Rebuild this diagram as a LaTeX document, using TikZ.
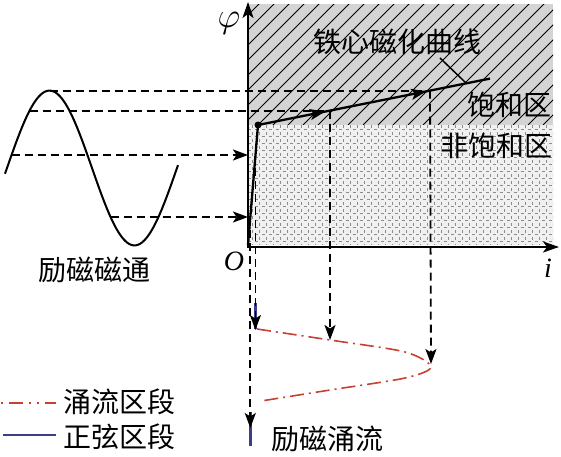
\documentclass[tikz,border=0pt]{standalone}
\usepackage{fontspec}
\setmainfont{Liberation Serif}
\newfontfamily\cjk{Noto Sans CJK SC}
\usetikzlibrary{arrows.meta,decorations.markings}
\definecolor{redc}{HTML}{C8402F}
\definecolor{bluec}{HTML}{3B3F86}
\tikzset{
  guide/.style={line width=1.8pt, dash pattern=on 8pt off 5pt},
  tipped/.style={-{Stealth[length=15pt,width=11pt,inset=3.5pt]}},
  axis/.style={line width=2.1pt,-{Stealth[length=16pt,width=11pt,inset=4pt]}},
  cjktext/.style={font=\cjk\fontsize{28}{30}\selectfont, inner sep=0pt, anchor=west},
  latin/.style={font=\itshape\fontsize{28}{28}\selectfont, inner sep=0pt},
  inrush/.style={redc, line width=1.6pt, dash pattern=on 14pt off 5pt on 2pt off 5pt},
  sinepart/.style={bluec, line width=2.4pt},
  gridline/.style={black!45, line width=0.6pt, dash pattern=on 3pt off 4pt},
}
\begin{document}
\begin{tikzpicture}[x=1pt,y=-1pt]
\useasboundingbox (0,0) rectangle (561,456);
% saturated region (hatched)
\fill[black!17] (248,4) rectangle (553,125);
\begin{scope}
  \clip (248,4) rectangle (553,125);
  \foreach \k in {0,...,29} \draw[line width=1pt] (123+\k*15,125) -- ++(125,-125);
\end{scope}
% non-saturated region (dotted grid)
\fill[black!6] (248,125) rectangle (553,245);
\begin{scope}
  \clip (248,125) rectangle (553,245);
  \foreach \k in {0,...,43} \draw[gridline] (252+\k*7,125) -- ++(0,120);
  \foreach \k in {0,...,17} \draw[gridline] (248,129+\k*7) -- ++(305,0);
\end{scope}
% axes
\coordinate (O) at (248,248);
\coordinate (Ytop) at (248,2);
\coordinate (Xend) at (559,247);
\draw[axis] (O) -- (Ytop);
\draw[axis] (247,247) -- (Xend);
\node[inner sep=0pt, scale=1.7] (phi) at (229,23) {\fontsize{20}{20}\selectfont$\varphi$};
\node[latin] (olab) at (234,261) {O};
\node[latin] (ilab) at (548,268) {i};
% magnetization curve
\coordinate (C0) at (248,245);
\coordinate (K) at (258,125);
\coordinate (E) at (490,78.6);
\coordinate (P1) at (330,110.6);
\coordinate (P2) at (430,90.6);
\coordinate (Q1) at (255.4,155);
\coordinate (Q2) at (250.3,217);
\draw[line width=2.3pt] (C0) -- (K);
\draw[line width=2.3pt, postaction={decorate}, decoration={markings,
   mark=at position 0.289 with {\arrow{Stealth[length=15pt,width=11pt,inset=3.5pt]}},
   mark=at position 0.725 with {\arrow{Stealth[length=15pt,width=11pt,inset=3.5pt]}}}] (K) -- (E);
\fill (K) circle (3.5);
\node[cjktext] (curvelab) at (313,42) {铁心磁化曲线};
\coordinate (L1) at (440,58);
\coordinate (L2) at (466,83);
\draw[line width=1.5pt] (L1) -- (L2);
\node[cjktext] (sat) at (467,105) {饱和区};
\node[cjktext] (unsat) at (440,146) {非饱和区};
% sine wave (excitation flux)
\draw[line width=2pt] plot[domain=5:178, samples=120] (\x, {168-77.4*sin((\x-7)*2.117647)});
\node[cjktext] (fluxlab) at (38,270) {励磁磁通};
\coordinate (S1) at (49.5,90.6);
\coordinate (S2) at (29.6,110.6);
\coordinate (S3) at (11.6,155);
\coordinate (S4) at (110.5,217);
\coordinate (A1) at (248,155);
\coordinate (A2) at (248,217);
\draw[guide] (S1) -- (P2);
\draw[guide] (S2) -- (P1);
\draw[guide, tipped] (S3) -- (A1);
\draw[guide, tipped] (S4) -- (A2);
% inrush current
\coordinate (B1) at (255.4,303);
\coordinate (B2) at (255.4,329);
\coordinate (B3) at (250.3,412);
\coordinate (B4) at (250.3,446);
\draw[sinepart] (B1) -- (B2);
\draw[sinepart] (B3) -- (B4);
\coordinate (T1) at (255.4,330);
\coordinate (T2) at (330,340);
\coordinate (T3) at (431,364);
\coordinate (T4) at (250.3,428);
\draw[guide, tipped] (Q1) -- (T1);
\draw[guide, tipped] (Q2) -- (T4);
\draw[guide, tipped] (P1) -- (T2);
\draw[guide, tipped] (P2) -- (T3);
\draw[inrush] plot[smooth, tension=0.5] coordinates {(257,329) (330,340) (405,352) (431,367) (405,378) (330,390) (261,401)};
\node[cjktext] (inrushlab) at (271,439) {励磁涌流};
% legend
\coordinate (R1) at (1,403);
\coordinate (R2) at (56,403);
\coordinate (U1) at (3,435);
\coordinate (U2) at (56,435);
\draw[inrush, dash pattern=on 2pt off 6pt on 14pt off 6pt on 2pt off 6pt] (R1) -- (R2);
\draw[sinepart] (U1) -- (U2);
\node[cjktext] (leg1) at (63,402) {涌流区段};
\node[cjktext] (leg2) at (63,437) {正弦区段};
\end{tikzpicture}
\end{document}
